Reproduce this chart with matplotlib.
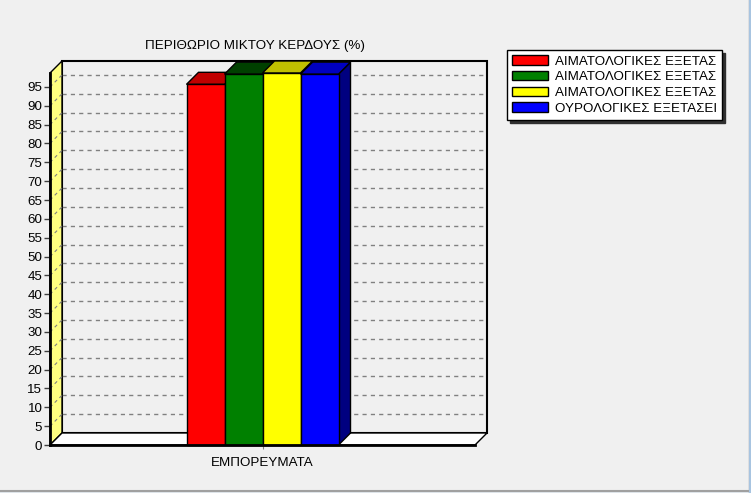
import matplotlib.pyplot as plt
from matplotlib.patches import Polygon, Rectangle, Patch
from matplotlib.lines import Line2D

plt.rcParams['font.family'] = ['Liberation Sans', 'DejaVu Sans']

# data
categories = ['ΕΜΠΟΡΕΥΜΑΤΑ']
series_names = ['ΑΙΜΑΤΟΛΟΓΙΚΕΣ ΕΞΕΤΑΣ', 'ΑΙΜΑΤΟΛΟΓΙΚΕΣ ΕΞΕΤΑΣ',
                'ΑΙΜΑΤΟΛΟΓΙΚΕΣ ΕΞΕΤΑΣ', 'ΟΥΡΟΛΟΓΙΚΕΣ ΕΞΕΤΑΣΕΙ']
values = [95.7, 98.4, 98.7, 98.4]
front_colors = ['#ff0000', '#008000', '#ffff00', '#0000ff']
top_colors = ['#c00000', '#004000', '#c0c000', '#0000c0']
side_colors = ['#800000', '#003000', '#808000', '#000080']
title = 'ΠΕΡΙΘΩΡΙΟ ΜΙΚΤΟΥ ΚΕΡΔΟΥΣ (%)'
yticks = list(range(0, 100, 5))

W, H = 751, 493
bg = '#f0f0f0'
fs = 9.6
fig = plt.figure(figsize=(W / 100, H / 100), dpi=100, facecolor=bg)
ax = fig.add_axes([50 / W, (H - 445) / H, 425 / W, 372 / H])
ax.set_facecolor('none')

ymax = max(values)
ax.set_xlim(-0.5, 0.5)
ax.set_ylim(0, ymax)
x0, x1 = ax.get_xlim()

# 3d depth (12 px) in data units
dx = 12 / 425 * (x1 - x0)
dy = 12 / 372 * ymax

# back wall
ax.add_patch(Rectangle((x0 + dx, dy), x1 - x0, ymax, fc=bg, ec='black',
                       lw=1.5, clip_on=False, zorder=0))
# grid on back wall and side wall
for v in yticks[1:]:
    ax.plot([x0 + dx, x1 + dx], [v + dy, v + dy], color='#808080', lw=1,
            ls=(0, (3, 3)), clip_on=False, zorder=0.5)
# left wall
ax.add_patch(Polygon([(x0, 0), (x0, ymax), (x0 + dx, ymax + dy), (x0 + dx, dy)],
                     closed=True, fc='#ffff80', ec='black', lw=1, clip_on=False, zorder=1))
for v in yticks[1:]:
    ax.plot([x0, x0 + dx], [v, v + dy], color='#808080', lw=0.8,
            ls=(0, (3, 3)), clip_on=False, zorder=1.2)
# floor
ax.add_patch(Polygon([(x0, 0), (x1, 0), (x1 + dx, dy), (x0 + dx, dy)],
                     closed=True, fc='white', ec='black', lw=1, clip_on=False, zorder=1))

# bars
w = 38 / 425 * (x1 - x0)
n = len(values)
for i, v in enumerate(values):
    x = 0 - n * w / 2 + i * w
    z = 3 + i
    ax.add_patch(Polygon([(x + w, 0), (x + w + dx, dy), (x + w + dx, v + dy), (x + w, v)],
                         closed=True, fc=side_colors[i], ec='black', lw=1,
                         clip_on=False, zorder=z))
    ax.add_patch(Polygon([(x, v), (x + w, v), (x + w + dx, v + dy), (x + dx, v + dy)],
                         closed=True, fc=top_colors[i], ec='black', lw=1,
                         clip_on=False, zorder=z))
    ax.add_patch(Rectangle((x, 0), w, v, fc=front_colors[i], ec='black', lw=1,
                           clip_on=False, zorder=z + 0.5))

# axes
for s in ['top', 'right']:
    ax.spines[s].set_visible(False)
for s in ['left', 'bottom']:
    ax.spines[s].set_linewidth(2)
    ax.spines[s].set_zorder(10)
ax.set_yticks(yticks)
ax.tick_params(axis='y', direction='out', length=4, width=1, color='#404040',
               labelsize=fs, pad=1.5)
ax.set_xticks([0])
ax.set_xticklabels(categories)
ax.tick_params(axis='x', direction='out', length=3, width=0.8, color='#808080',
               labelsize=fs, pad=6)

fig.text(255 / W, 1 - 46 / H, title, ha='center', va='center', fontsize=fs)

# legend
handles = [Patch(fc=c, ec='black', lw=1) for c in front_colors]
leg = fig.legend(handles, series_names, loc='upper left',
                 bbox_to_anchor=(507 / W, 1 - 50 / H), fontsize=fs,
                 frameon=True, fancybox=False, edgecolor='black', facecolor='white',
                 shadow={'color': '#303030', 'alpha': 1}, borderpad=0.4,
                 labelspacing=0.25, handlelength=2.7, handleheight=0.7,
                 handletextpad=0.5, borderaxespad=0)
leg.get_frame().set_linewidth(1)

# window frame
fig.add_artist(Line2D([0, 1], [(H - 490.5) / H] * 2, transform=fig.transFigure,
                      color='#a0a0a0', lw=1.5))
fig.add_artist(Line2D([0, 1], [(H - 492.5) / H] * 2, transform=fig.transFigure,
                      color='#a8c4e0', lw=1))
fig.add_artist(Line2D([748.5 / W] * 2, [0, 1], transform=fig.transFigure,
                      color='#a0a0a0', lw=1))
fig.add_artist(Line2D([750 / W] * 2, [0, 1], transform=fig.transFigure,
                      color='#a8c4e0', lw=1.5))

fig.savefig('out.png', dpi=100, facecolor=bg)
